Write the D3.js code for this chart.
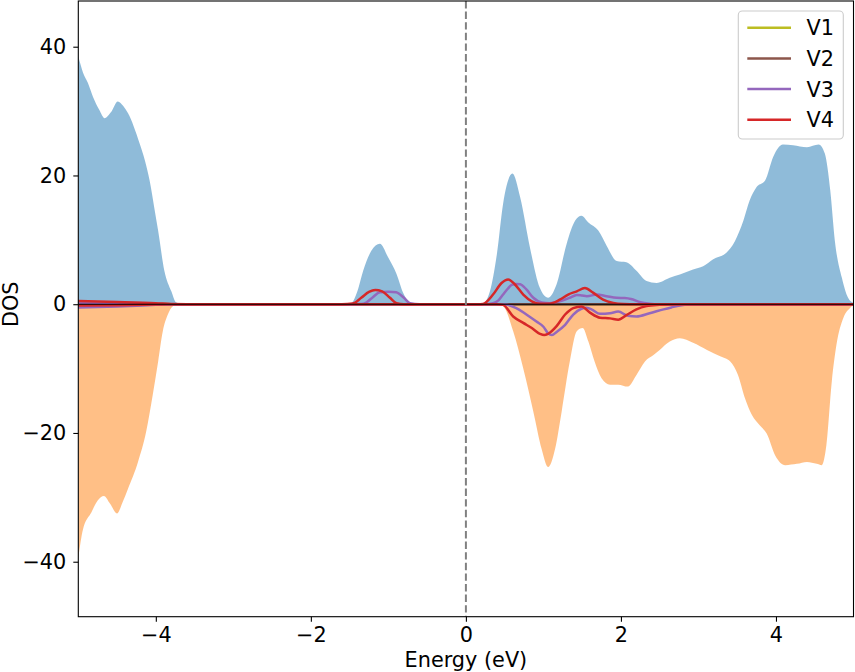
<!DOCTYPE html>
<html>
<head>
<meta charset="utf-8">
<script src="https://cdn.jsdelivr.net/npm/d3@7"></script>
<style>
  html, body { margin: 0; padding: 0; background: #fff; }
  svg { display: block; font-family: "DejaVu Sans", sans-serif; }
</style>
</head>
<body>
<svg id="chart" width="855" height="672"></svg>
<script>
// ---- Data (energy in eV, DOS values) ----
const xTicks = [-4, -2, 0, 2, 4];
const yTicks = [-40, -20, 0, 20, 40];
const legendLabels = ["V1", "V2", "V3", "V4"];

const totalUp = [[-5.0,38.5],[-4.94,36.0],[-4.877,34.4],[-4.81,32.2],[-4.73,30.2],[-4.66,28.9],[-4.58,29.8],[-4.49,31.5],[-4.42,30.8],[-4.36,29.7],[-4.21,25.0],[-4.14,22.3],[-4.08,19.2],[-4.02,15.0],[-3.97,11.4],[-3.89,5.2],[-3.80,2.0],[-3.74,0.3],[-3.65,0.05],[-3.0,0],[-2.0,0],[-1.55,0],[-1.475,0.2],[-1.40,2.0],[-1.325,5.2],[-1.22,8.3],[-1.11,9.4],[-1.0,7.2],[-0.895,4.7],[-0.81,1.8],[-0.70,0.1],[-0.6,0],[0,0],[0.15,0],[0.22,0.1],[0.31,2.0],[0.40,7.8],[0.48,15.6],[0.60,20.3],[0.70,16.6],[0.826,8.8],[0.955,2.5],[1.06,1.0],[1.17,3.1],[1.30,9.4],[1.41,13.0],[1.49,13.75],[1.58,12.7],[1.71,11.4],[1.815,9.1],[1.945,6.7],[2.07,6.5],[2.20,5.2],[2.33,3.6],[2.46,3.3],[2.63,4.1],[2.76,4.6],[2.93,5.4],[3.06,5.9],[3.19,7.0],[3.36,8.0],[3.47,9.8],[3.58,13.0],[3.66,16.1],[3.75,18.2],[3.86,19.2],[3.965,22.9],[4.09,24.8],[4.22,24.7],[4.40,24.4],[4.55,24.8],[4.63,23.4],[4.70,17.7],[4.76,9.8],[4.85,4.1],[4.93,1.0],[5.0,0.2]];

const totalDown = [[-5.0,-39.5],[-4.94,-35.0],[-4.83,-32.3],[-4.75,-30.5],[-4.67,-29.8],[-4.59,-31.0],[-4.50,-32.5],[-4.43,-30.8],[-4.36,-28.7],[-4.23,-24.5],[-4.125,-19.8],[-4.04,-14.1],[-3.97,-8.9],[-3.91,-4.2],[-3.845,-1.6],[-3.78,-0.3],[-3.70,0],[0.40,0],[0.48,-0.3],[0.61,-4.2],[0.74,-10],[0.87,-16.7],[0.977,-22.5],[1.06,-25.3],[1.15,-22.5],[1.235,-16.7],[1.34,-8.9],[1.43,-4.2],[1.505,-3.7],[1.58,-5.8],[1.66,-8.9],[1.75,-11.5],[1.86,-12.5],[1.965,-12.5],[2.09,-12.8],[2.20,-11.0],[2.31,-8.9],[2.42,-7.9],[2.50,-7.1],[2.63,-5.8],[2.76,-5.3],[2.93,-6.0],[3.11,-7.1],[3.28,-8.1],[3.41,-8.9],[3.51,-11.0],[3.60,-14.6],[3.69,-17.2],[3.79,-18.8],[3.88,-20.1],[3.99,-23.5],[4.12,-25.0],[4.27,-24.8],[4.40,-24.5],[4.525,-24.8],[4.59,-25.0],[4.65,-21.9],[4.72,-12.0],[4.78,-6.3],[4.87,-2.1],[4.955,-0.6],[5.0,-0.1]];

const v1Up = [[-5.0,0.05],[-4.0,0.03],[-3.8,0],[5.0,0]];
const v1Down = [[-5.0,-0.05],[-4.0,-0.03],[-3.8,0],[5.0,0]];
const v2Up = [[-5.0,0.1],[-4.0,0.05],[-3.8,0],[5.0,0]];
const v2Down = [[-5.0,-0.1],[-4.0,-0.05],[-3.8,0],[5.0,0]];

const v3Up = [[-5.0,0.2],[-4.5,0.15],[-4.0,0.05],[-3.8,0],[-1.5,0],[-1.35,0.02],[-1.28,0.3],[-1.20,1.1],[-1.11,1.85],[-1.0,1.95],[-0.90,1.85],[-0.80,1.0],[-0.72,0.15],[-0.6,0],[0.25,0],[0.35,0.15],[0.42,0.6],[0.48,1.5],[0.54,2.4],[0.59,3.0],[0.65,3.15],[0.70,3.1],[0.78,2.3],[0.87,1.0],[0.98,0.25],[1.08,0.15],[1.21,0.45],[1.34,1.0],[1.43,1.45],[1.50,1.35],[1.56,1.25],[1.69,1.5],[1.815,1.25],[1.945,1.0],[2.05,0.95],[2.13,0.8],[2.25,0.3],[2.37,0.08],[2.5,0],[5.0,0]];
const v3Down = [[-5.0,-0.5],[-4.5,-0.35],[-4.0,-0.1],[-3.8,0],[0.40,0],[0.51,-0.05],[0.65,-0.6],[0.78,-1.6],[0.91,-2.7],[1.0,-3.5],[1.06,-4.5],[1.11,-4.8],[1.17,-4.3],[1.28,-3.2],[1.385,-1.6],[1.49,-0.7],[1.55,-0.55],[1.62,-0.8],[1.73,-1.5],[1.86,-1.4],[1.965,-1.15],[2.09,-1.8],[2.20,-1.9],[2.37,-1.4],[2.55,-0.8],[2.65,-0.5],[2.76,-0.2],[2.9,-0.05],[3.1,0],[5.0,0]];

const v4Up = [[-5.0,0.5],[-4.5,0.35],[-4.0,0.15],[-3.8,0.02],[-3.6,0],[-1.6,0],[-1.46,0.1],[-1.35,1.0],[-1.25,1.9],[-1.17,2.2],[-1.08,2.0],[-0.98,1.0],[-0.895,0.15],[-0.8,0],[0.15,0],[0.22,0.05],[0.35,1.5],[0.46,3.3],[0.546,3.85],[0.63,3.1],[0.74,1.5],[0.85,0.45],[0.955,0.08],[1.08,0.08],[1.21,0.7],[1.32,1.5],[1.43,2.0],[1.535,2.5],[1.64,1.8],[1.77,0.7],[1.90,0.2],[2.03,0.03],[2.2,0],[5.0,0]];
const v4Down = [[-5.0,-0.2],[-4.5,-0.15],[-4.0,-0.05],[-3.8,0],[0.40,0],[0.48,-0.1],[0.61,-1.9],[0.74,-2.9],[0.85,-3.7],[0.955,-4.6],[1.01,-4.8],[1.06,-4.6],[1.17,-3.4],[1.28,-1.6],[1.385,-0.6],[1.49,-0.35],[1.60,-1.3],[1.73,-2.1],[1.86,-2.2],[1.965,-2.4],[2.07,-1.7],[2.20,-0.8],[2.33,-0.3],[2.50,-0.1],[2.65,0],[5.0,0]];

const seriesColors = ["#bcbd22", "#8c564b", "#9467bd", "#d62728"];
const seriesData = [[v1Up, v1Down], [v2Up, v2Down], [v3Up, v3Down], [v4Up, v4Down]];

// ---- Layout ----
const margin = { left: 78.3, right: 855 - 853.5, top: 1, bottom: 672 - 616.7 };
const W = 855, H = 672;
const FS = "20.8px";
const svg = d3.select("#chart");

const x = d3.scaleLinear().domain([-5, 5]).range([margin.left, W - margin.right]);
const y = d3.scaleLinear().domain([-48.54, 47.1]).range([H - margin.bottom, margin.top]);

const clipId = "plotclip";
svg.append("defs").append("clipPath").attr("id", clipId)
  .append("rect")
  .attr("x", x(-5)).attr("y", y(47.1))
  .attr("width", x(5) - x(-5)).attr("height", y(-48.54) - y(47.1));

const plot = svg.append("g").attr("clip-path", `url(#${clipId})`);

const area = d3.area().x(d => x(d[0])).y0(y(0)).y1(d => y(d[1])).curve(d3.curveMonotoneX);
const line = d3.line().x(d => x(d[0])).y(d => y(d[1])).curve(d3.curveMonotoneX);

plot.append("path").datum(totalUp).attr("d", area)
  .attr("fill", "#1f77b4").attr("fill-opacity", 0.5);
plot.append("path").datum(totalDown).attr("d", area)
  .attr("fill", "#ff7f0e").attr("fill-opacity", 0.5);

seriesData.forEach((pair, i) => {
  pair.forEach(d => {
    plot.append("path").datum(d).attr("d", line)
      .attr("fill", "none").attr("stroke", seriesColors[i])
      .attr("stroke-width", 2.5).attr("stroke-linejoin", "round").attr("stroke-linecap", "round");
  });
});

// zero line
plot.append("line")
  .attr("x1", x(-5)).attr("x2", x(5)).attr("y1", y(0)).attr("y2", y(0))
  .attr("stroke", "#000").attr("stroke-width", 1.1);

// Fermi level dashed line
plot.append("line")
  .attr("x1", x(0)).attr("x2", x(0)).attr("y1", y(47.1)).attr("y2", y(-48.54))
  .attr("stroke", "#808080").attr("stroke-width", 2)
  .attr("stroke-dasharray", "7.4,3.2");

// ---- Axes ----
const fmt = d3.format("d");
const xAxis = svg.append("g")
  .attr("transform", `translate(0,${y(-48.54)})`)
  .call(d3.axisBottom(x).tickValues(xTicks).tickSize(5).tickPadding(6).tickFormat(fmt));
const yAxis = svg.append("g")
  .attr("transform", `translate(${x(-5)},0)`)
  .call(d3.axisLeft(y).tickValues(yTicks).tickSize(5).tickPadding(7).tickFormat(fmt));

[xAxis, yAxis].forEach(g => {
  g.select(".domain").remove();
  g.selectAll(".tick line").attr("stroke", "#000").attr("stroke-width", 1.1);
  g.selectAll(".tick text").attr("fill", "#000")
    .style("font-family", "'DejaVu Sans', sans-serif").style("font-size", FS);
});

// frame
svg.append("rect")
  .attr("x", x(-5)).attr("y", y(47.1))
  .attr("width", x(5) - x(-5)).attr("height", y(-48.54) - y(47.1))
  .attr("fill", "none").attr("stroke", "#000").attr("stroke-width", 1.1);

// axis labels
svg.append("text")
  .attr("x", (x(-5) + x(5)) / 2).attr("y", 667)
  .attr("text-anchor", "middle").style("font-size", FS).attr("fill", "#000")
  .text("Energy (eV)");
svg.append("text")
  .attr("transform", `translate(17.5,${y(0)}) rotate(-90)`)
  .attr("text-anchor", "middle").style("font-size", FS).attr("fill", "#000")
  .text("DOS");

// ---- Legend ----
const leg = svg.append("g");
leg.append("rect")
  .attr("x", 738.3).attr("y", 11).attr("width", 105).attr("height", 128)
  .attr("rx", 4).attr("ry", 4)
  .attr("fill", "#fff").attr("fill-opacity", 0.8)
  .attr("stroke", "#cccccc").attr("stroke-width", 1.1);
legendLabels.forEach((lab, i) => {
  const cy = 27.7 + i * 30.7;
  leg.append("line")
    .attr("x1", 747.3).attr("x2", 791).attr("y1", cy).attr("y2", cy)
    .attr("stroke", seriesColors[i]).attr("stroke-width", 2.5);
  leg.append("text")
    .attr("x", 806.5).attr("y", cy + 7.5)
    .style("font-size", FS).attr("fill", "#000")
    .text(lab);
});
</script>
</body>
</html>
